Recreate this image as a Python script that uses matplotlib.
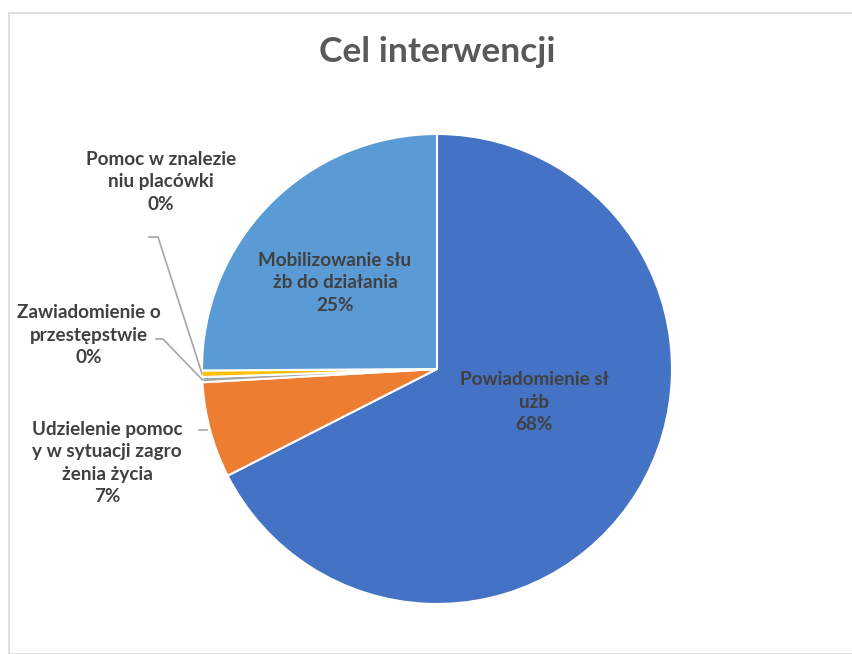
import numpy as np
import matplotlib.pyplot as plt
from matplotlib.patches import Rectangle

plt.rcParams['font.family'] = ['Lato', 'DejaVu Sans']

kategorie = ['Powiadomienie sł\nużb', 'Udzielenie pomoc\ny w sytuacji zagro\nżenia życia',
             'Zawiadomienie o\nprzestępstwie', 'Pomoc w znalezie\nniu placówki',
             'Mobilizowanie słu\nżb do działania']
udzial = [67.5, 6.6, 0.35, 0.45, 25.1]
kolory = ['#4472C4', '#ED7D31', '#A5A5A5', '#FFC000', '#5B9BD5']

W, H = 853, 654
fig = plt.figure(figsize=(W / 100, H / 100), dpi=100)
fig.patches.append(Rectangle((8.5 / W, 0), 1, 1 - 12.5 / H, transform=fig.transFigure,
                             fill=False, edgecolor='#D9D9D9', linewidth=1.2))

cx, cy, r = 437, 369, 235
ax = fig.add_axes([(cx - r) / W, (H - cy - r) / H, 2 * r / W, 2 * r / H])
wedges, _ = ax.pie(udzial, colors=kolory, startangle=90, counterclock=False,
                   wedgeprops=dict(edgecolor='white', linewidth=1.5))
ax.set_xlim(-1, 1)
ax.set_ylim(-1, 1)
ax.set_aspect('equal')
ax.axis('off')

fig.text(cx / W, 1 - 52 / H, 'Cel interwencji', ha='center', va='center',
         fontsize=25.5, fontweight='bold', color='#595959')


def px(x, y):
    return (x - cx) / r, (cy - y) / r


proc = ['%d%%' % round(v) for v in udzial]
# pozycje etykiet (piksele)
poz = [(534, 402), (107, 463), (89, 335), (161, 182), (335, 283)]
for k, p, (x, y) in zip(kategorie, proc, poz):
    tx, ty = px(x, y)
    ax.text(tx, ty, k + '\n' + p, ha='center', va='center', fontsize=13.6,
            fontweight='bold', color='#404040', linespacing=1.38)

# linie odniesienia
linie = {2: (156, 163, 339), 3: (149, 158, 237), 1: (199, 207, 430)}
for i, (x0, x1, y) in linie.items():
    w = wedges[i]
    kat = np.deg2rad((w.theta1 + w.theta2) / 2)
    ex, ey = np.cos(kat), np.sin(kat)
    a = px(x0, y)
    b = px(x1, y)
    if i == 1:
        xs, ys = [a[0], b[0]], [a[1], b[1]]
    else:
        xs, ys = [a[0], b[0], ex], [a[1], b[1], ey]
    ax.plot(xs, ys, color='#A6A6A6', linewidth=1.2, clip_on=False)

plt.savefig('out.png', dpi=100)
